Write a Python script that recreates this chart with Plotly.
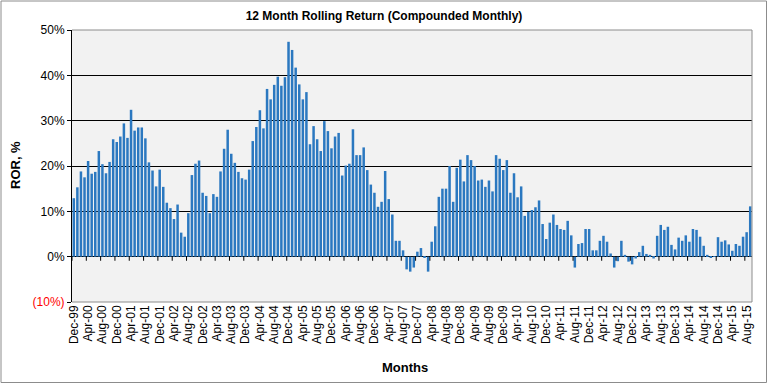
import pandas as pd
import plotly.graph_objects as go

# Monthly categories Dec-99 .. Sep-15
months = list(pd.date_range("1999-12-01", periods=190, freq="MS").strftime("%b-%y"))

# 12-month rolling return, %
ror = [
    12.9, 15.3, 18.8, 17.5, 21.1, 18.3, 18.7, 23.3, 20.4, 18.4, 20.9, 25.9, 25.3, 26.5, 29.4, 26.2,
    32.4, 27.8, 28.5, 28.5, 26.1, 20.8, 19.0, 15.5, 19.2, 15.4, 11.9, 10.7, 8.3, 11.5, 5.3, 4.4,
    9.6, 18.0, 20.5, 21.2, 14.1, 13.4, 9.6, 13.8, 13.2, 18.8, 23.8, 28.0, 22.7, 20.7, 18.7, 17.3,
    17.0, 19.2, 25.5, 28.6, 32.3, 28.3, 37.0, 34.7, 37.9, 39.7, 37.7, 39.6, 47.4, 45.6, 41.7, 38.0,
    34.7, 36.3, 24.8, 28.8, 25.9, 23.3, 29.9, 27.7, 23.9, 26.5, 27.3, 17.9, 20.1, 20.5, 28.1, 22.4,
    22.4, 24.1, 19.1, 15.9, 14.1, 11.0, 12.1, 18.9, 12.7, 9.3, 3.5, 3.5, 1.4, -2.8, -3.3, -2.4, 1.1,
    1.9, -0.2, -3.3, 3.3, 6.7, 13.2, 15.0, 15.0, 20.0, 12.1, 19.6, 21.4, 16.6, 22.4, 21.3, 20.0,
    16.8, 17.0, 15.4, 16.8, 14.4, 22.4, 21.6, 19.1, 21.3, 14.1, 18.4, 13.1, 15.5, 9.0, 9.9, 10.3,
    10.9, 12.4, 7.2, 3.9, 7.5, 9.3, 7.0, 6.1, 5.9, 7.9, 4.7, -2.4, 2.8, 3.0, 6.1, 6.1,
    1.4, 1.4, 3.5, 4.6, 3.3, 0.7, -2.4, -1.0, 3.5, 0.4, -1.1, -1.7, -0.4, 1.0, 2.4, 0.6, 0.4,
    -0.4, 4.6, 7.0, 5.9, 6.6, 2.6, 1.6, 4.2, 3.5, 4.7, 3.3, 6.1, 5.9, 4.4, 2.4,
    0.4, -0.3, 0.1, 4.3, 3.3, 3.6, 2.7, 1.3, 2.8, 2.4, 4.4, 5.4, 11.1,
]

y_ticks = [-10, 0, 10, 20, 30, 40, 50]
y_ticktext = ["<span style='color:#FF0000'>(10%)</span>", "0%", "10%", "20%", "30%", "40%", "50%"]
x_ticks = months[::4]

FONT = "Arial, 'Liberation Sans', sans-serif"

fig = go.Figure()
fig.add_trace(go.Bar(
    x=months, y=ror,
    marker=dict(color="#2B78C0", line=dict(width=0)),
    hoverinfo="x+y",
))

shapes = []
# tick marks on zero line, at category boundaries
for i in range(0, len(months), 4):
    shapes.append(dict(type="line", xref="x", yref="y", x0=i - 0.5, x1=i - 0.5,
                       y0=0, y1=-0.9, line=dict(color="black", width=1), layer="above"))
# plot-area border (gray) top/right/bottom
for (x0, y0, x1, y1) in [(0, 1, 1, 1), (1, 0, 1, 1), (0, 0, 1, 0)]:
    shapes.append(dict(type="line", xref="paper", yref="paper", x0=x0, y0=y0, x1=x1, y1=y1,
                       line=dict(color="#8C8C8C", width=1), layer="above"))
# outer chart border
shapes.append(dict(type="rect", xref="paper", yref="paper",
                   x0=(1 - 72) / 680, x1=(766.5 - 72) / 680,
                   y0=(302 - 382.5) / 272, y1=(302 - 1) / 272,
                   line=dict(color="#8C8C8C", width=1), fillcolor="rgba(0,0,0,0)", layer="above"))

fig.update_layout(
    width=768, height=384,
    margin=dict(l=72, r=16, t=30, b=82),
    paper_bgcolor="white",
    plot_bgcolor="#F2F2F2",
    bargap=0.3,
    showlegend=False,
    font=dict(family=FONT, size=12, color="black"),
    title=dict(text="<b>12 Month Rolling Return (Compounded Monthly)</b>",
               x=0.5, xref="container", xanchor="center",
               y=1 - 16 / 384, yref="container", yanchor="middle",
               font=dict(family=FONT, size=12, color="black")),
    xaxis=dict(type="category", categoryorder="array", categoryarray=months,
               tickmode="array", tickvals=x_ticks, ticktext=x_ticks,
               tickangle=-90, ticks="", showgrid=False, showline=False,
               tickfont=dict(family=FONT, size=12, color="black"),
               range=[-0.5, len(months) - 0.5]),
    yaxis=dict(range=[-10, 50], tickmode="array", tickvals=y_ticks, ticktext=y_ticktext,
               showgrid=True, gridcolor="black", gridwidth=1,
               zeroline=True, zerolinecolor="black", zerolinewidth=1,
               showline=True, linecolor="black", linewidth=1,
               ticks="outside", ticklen=4, tickcolor="black",
               tickfont=dict(family=FONT, size=12, color="black")),
    shapes=shapes,
    annotations=[
        dict(text="<b>ROR, %</b>", xref="paper", yref="paper",
             x=(15 - 72) / 680, y=(302 - 165) / 272, textangle=-90,
             showarrow=False, xanchor="center", yanchor="middle",
             font=dict(family=FONT, size=13, color="black")),
        dict(text="<b>Months</b>", xref="paper", yref="paper",
             x=(405 - 72) / 680, y=(302 - 367) / 272,
             showarrow=False, xanchor="center", yanchor="middle",
             font=dict(family=FONT, size=13, color="black")),
    ],
)

fig.write_html("out.html", config={"displayModeBar": False},
               post_script="document.body.style.margin='0';")
